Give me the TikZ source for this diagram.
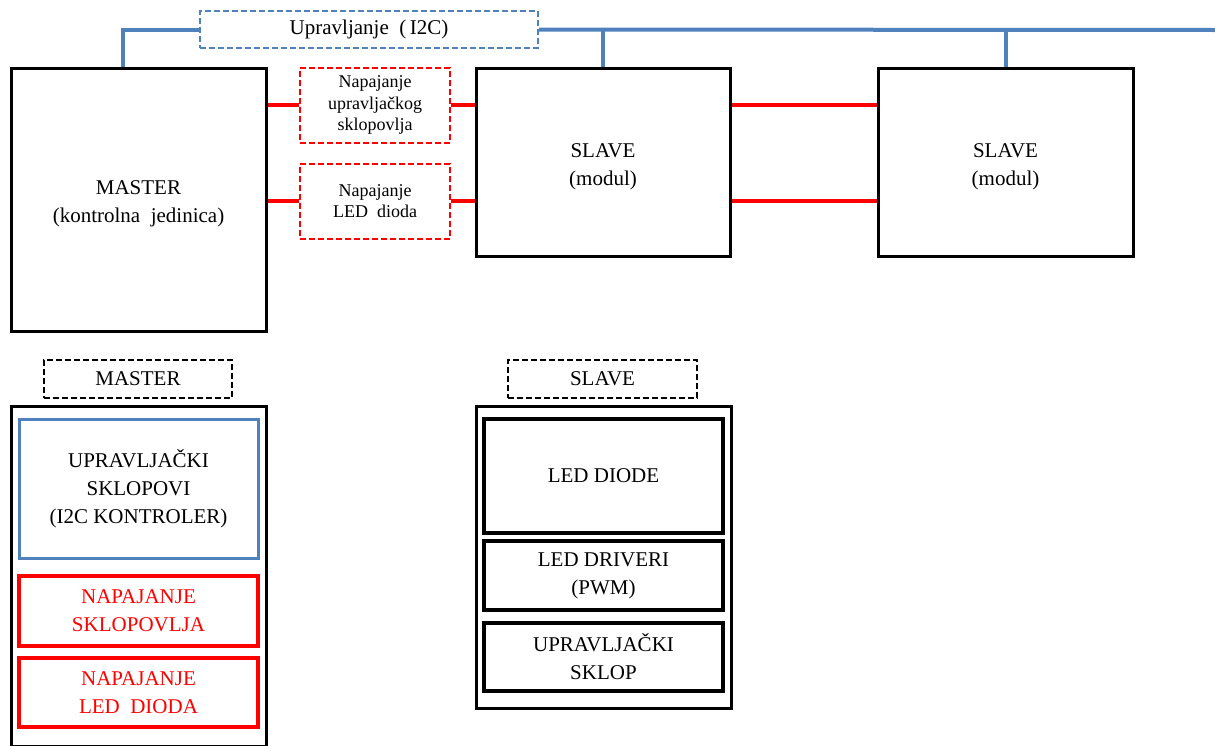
\documentclass[tikz,border=0pt]{standalone}
\usepackage{fontspec}
\setmainfont{Liberation Serif}
\usetikzlibrary{positioning}
\definecolor{busblue}{HTML}{4F81BD}
\definecolor{pwrred}{HTML}{FF0000}
\newcommand*{\PowerLinks}[1]{% #1 = list of y values of the red supply lines
  \foreach \y in {#1} {
    \draw [pwrline] (slaveA.east |- 0,\y) -- (slaveB.west |- 0,\y);
    }%
}
\newcommand*{\LowText}[2]{% #1 = drop, #2 = lines
  \raisebox{-#1}[\height][\depth]{\begin{tabular}{@{}c@{}}#2\end{tabular}}}

\begin{document}
\begin{tikzpicture}[x=1pt,y=-1pt,
    bigtxt/.style={font=\fontsize{21}{28}\selectfont},
    smalltxt/.style={font=\fontsize{18}{21.5}\selectfont},
    blok/.style={draw=black,line width=3pt,align=center,inner sep=0pt,bigtxt},
    dashblok/.style={line width=2pt,dash pattern=on 6pt off 3pt,align=center,inner sep=0pt},
    busline/.style={draw=busblue,line width=4pt},
    pwrline/.style={draw=pwrred,line width=4pt}]
    \useasboundingbox (0,0) rectangle (1215,745);

    % upper part: modules and buses
    \node [blok,minimum width=255pt,minimum height=263pt] (master) at (138.5,199.5)
      {\LowText{3pt}{MASTER\\(kontrolna~ jedinica)}};
    \node [blok,minimum width=254pt,minimum height=188pt] (slaveA) at (603,162)
      {\LowText{4pt}{SLAVE\\(modul)}};
    \node [blok,minimum width=255pt,minimum height=188pt] (slaveB) at (1005.5,162)
      {\LowText{4pt}{SLAVE\\(modul)}};

    \node [dashblok,draw=busblue,bigtxt,minimum width=338pt,minimum height=37pt] (i2c)
      at (369,29.5) {Upravljanje~ (\,I2C)};
    \node [dashblok,draw=pwrred,smalltxt,minimum width=150pt,minimum height=75pt] (pwrctl)
      at (375,105) {Napajanje\\upravljačkog\\sklopovlja};
    \node [dashblok,draw=pwrred,smalltxt,minimum width=150pt,minimum height=75pt] (pwrled)
      at (375,201) {Napajanje\\LED~ dioda};

    \coordinate (busend) at (1217,30);
    \coordinate (mtap) at ([xshift=-15.5pt]master.north);
    \draw [busline] (mtap) |- (i2c.west);
    \draw [busline] (i2c.east) -- (busend);
    \draw [busline] (slaveA.north) -- (slaveA.north |- busend);
    \draw [busline] (slaveB.north) -- (slaveB.north |- busend);

    \draw [pwrline] (master.east |- pwrctl) -- (pwrctl.west);
    \draw [pwrline] (pwrctl.east) -- (slaveA.west |- pwrctl);
    \draw [pwrline] (master.east |- pwrled) -- (pwrled.west);
    \draw [pwrline] (pwrled.east) -- (slaveA.west |- pwrled);
    \PowerLinks{105,201}

    % lower part: inside the MASTER
    \node [dashblok,draw=black,bigtxt,minimum width=188pt,minimum height=38pt] (masterlbl)
      at (138,379) {MASTER};
    \node [blok,minimum width=255pt,minimum height=340pt] (masterbox) at (138.5,576) {};
    \node [blok,draw=busblue,minimum width=239pt,minimum height=139pt] (mctl) at (138.5,488.5)
      {UPRAVLJAČKI\\SKLOPOVI\\(I2C KONTROLER)};
    \node [blok,draw=pwrred,text=pwrred,line width=4pt,minimum width=239pt,minimum height=70pt]
      (mpwr) at (138.5,611) {NAPAJANJE\\SKLOPOVLJA};
    \node [blok,draw=pwrred,text=pwrred,line width=4pt,minimum width=239pt,minimum height=69pt]
      (mled) at (138.5,692.5) {NAPAJANJE\\LED~ DIODA};

    % lower part: inside the SLAVE
    \node [dashblok,draw=black,bigtxt,minimum width=189pt,minimum height=38pt] (slavelbl)
      at (602.5,379) {SLAVE};
    \node [blok,minimum width=255pt,minimum height=302pt] (slavebox) at (603.5,557) {};
    \node [blok,line width=4pt,minimum width=239pt,minimum height=114pt] (leds) at (603.5,476)
      {LED DIODE};
    \node [blok,line width=4pt,minimum width=239pt,minimum height=69pt] (drv) at (603.5,575.5)
      {LED DRIVERI\\(PWM)};
    \node [blok,line width=4pt,minimum width=239pt,minimum height=68pt] (sctl) at (603.5,657)
      {UPRAVLJAČKI\\SKLOP};
\end{tikzpicture}
\end{document}
